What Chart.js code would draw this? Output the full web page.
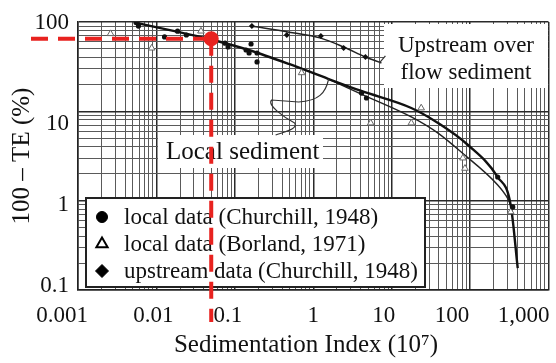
<!DOCTYPE html>
<html lang="en">
<head>
<meta charset="UTF-8">
<title>Trap efficiency vs sedimentation index</title>
<script src="https://cdn.jsdelivr.net/npm/chart.js@4"></script>
<style>
  body { margin: 0; background: #fff; }
</style>
</head>
<body>
<canvas id="chart" width="556" height="363"></canvas>
<script>
// values (x = sedimentation index, y = 100 - TE in %)
const mainCurveX = [0.0055, 0.017, 0.047, 0.15, 0.49, 1.57, 4.1, 17.8, 39, 94, 225, 330, 405];
const mainCurveY = [98, 79, 64.5, 48.6, 33.9, 23, 16.9, 10.9, 7.4, 4.2, 1.84, 0.89, 0.176];

const lowerCurveX = [1.57, 4.1, 17.8, 39, 77, 225, 300, 330];
const lowerCurveY = [23, 15.6, 8.65, 5.7, 3.5, 1.5, 1.07, 0.89];

const upstreamCurveX = [0.161, 0.49, 1.245, 2.44, 4.63, 7.4];
const upstreamCurveY = [90, 77, 66, 52.5, 40.6, 34.8];

const churchillLocalX = [0.0055, 0.0059, 0.0127, 0.0186, 0.0241, 0.075, 0.082, 0.139, 0.161, 0.152, 0.192, 0.192, 4.13, 4.77, 225, 350];
const churchillLocalY = [99, 90, 68, 79, 71.5, 58, 52.5, 48.6, 56.7, 45, 45, 35.7, 16, 14.1, 1.84, 0.85];

const borlandX = [0.0026, 0.0087, 0.037, 0.71, 5.4, 17.8, 23.8, 81, 86, 330];
const borlandY = [74, 51, 79, 27, 7.4, 7.4, 10.9, 3.0, 2.3, 0.75];

const upstreamDataX = [0.165, 0.46, 1.25, 2.44, 4.63];
const upstreamDataY = [90, 71.5, 69.7, 51, 40.6];

const markX = [0.05];
const markY = [65];

const xTickValues = [0.001, 0.01, 0.1, 1, 10, 100, 1000];
const xTickLabels = ['0.001', '0.01', '0.1', '1', '10', '100', '1,000'];
const yTickValues = [0.1, 1, 10, 100];
const yTickLabels = ['0.1', '1', '10', '100'];

const legendLabels = ['local data (Churchill, 1948)', 'local data (Borland, 1971)', 'upstream data (Churchill, 1948)'];
const xTitle = 'Sedimentation Index (10\u2077)';
const yTitle = '100 \u2013 TE (%)';
const upstreamNote = ['Upstream over', 'flow sediment'];
const localNote = 'Local sediment';

const SERIF = "'Liberation Serif', 'Times New Roman', serif";

function pts(xs, ys) {
  return xs.map((x, i) => ({ x: x, y: ys[i] }));
}

function logTicks(scale) {
  const t = [];
  const lo = Math.floor(Math.log10(scale.min) + 1e-9);
  const hi = Math.ceil(Math.log10(scale.max) - 1e-9);
  for (let e = lo; e <= hi; e++) {
    for (let m = 1; m <= 9; m++) {
      const v = m * Math.pow(10, e);
      if (v >= scale.min * 0.999 && v <= scale.max * 1.001) t.push({ value: v, major: m === 1 });
    }
  }
  scale.ticks = t;
}

const gridOpts = {
  color: c => (c.tick && c.tick.major) ? '#2a2a2a' : '#5a5a5a',
  lineWidth: c => (c.tick && c.tick.major) ? 1.5 : 1,
  drawTicks: false
};

const decor = {
  id: 'decor',
  beforeDatasetsDraw(chart) {
    const ctx = chart.ctx;
    ctx.save();
    // white boxes over the grid
    ctx.fillStyle = '#fff';
    ctx.fillRect(384, 24, 164, 64);
    ctx.fillRect(158, 135, 165, 33);
    ctx.fillRect(86, 198, 339, 89);
    ctx.lineWidth = 2;
    ctx.strokeStyle = '#222';
    ctx.strokeRect(86, 198, 339, 89);

    // legend
    const rows = [217, 244, 271];
    const styles = [
      { pointStyle: 'circle', radius: 5.5, rotation: 0, borderWidth: 1, fill: '#000' },
      { pointStyle: 'triangle', radius: 6.5, rotation: 0, borderWidth: 2, fill: '#fff' },
      { pointStyle: 'rectRot', radius: 6.5, rotation: 0, borderWidth: 1, fill: '#000' }
    ];
    ctx.font = '23px ' + SERIF;
    ctx.textBaseline = 'middle';
    ctx.textAlign = 'left';
    legendLabels.forEach((lab, i) => {
      ctx.fillStyle = styles[i].fill;
      ctx.strokeStyle = '#000';
      ctx.lineWidth = styles[i].borderWidth;
      Chart.helpers.drawPoint(ctx, styles[i], 102, rows[i]);
      ctx.fillStyle = '#111';
      ctx.fillText(lab, 124, rows[i] + 1);
    });
    ctx.restore();
  },
  afterDatasetsDraw(chart) {
    const ctx = chart.ctx;
    const xs = chart.scales.x, ys = chart.scales.y;
    ctx.save();

    // notes
    ctx.fillStyle = '#111';
    ctx.font = '23px ' + SERIF;
    ctx.textAlign = 'center';
    ctx.textBaseline = 'alphabetic';
    ctx.fillText(upstreamNote[0], 466, 52);
    ctx.fillText(upstreamNote[1], 466, 79);
    ctx.font = '25px ' + SERIF;
    ctx.textAlign = 'left';
    ctx.fillText(localNote, 166, 159);

    // leader lines
    ctx.strokeStyle = '#333';
    ctx.lineWidth = 1.2;
    const ax = xs.getPixelForValue(1.57), ay = ys.getPixelForValue(23);
    ctx.beginPath();
    ctx.moveTo(ax, ay);
    ctx.bezierCurveTo(ax - 3, ay + 14, ax - 10, ay + 22, ax - 30, ay + 23);
    ctx.lineTo(ax - 57, ay + 21);
    ctx.bezierCurveTo(ax - 62, ay + 26, ax - 45, ay + 38, ax - 34, ay + 44);
    ctx.bezierCurveTo(ax - 30, ay + 50, ax - 45, ay + 53, ax - 53, ay + 56);
    ctx.stroke();
    const ux = xs.getPixelForValue(upstreamCurveX[upstreamCurveX.length - 1]);
    const uy = ys.getPixelForValue(upstreamCurveY[upstreamCurveY.length - 1]);
    ctx.beginPath();
    ctx.moveTo(ux - 2, uy);
    ctx.lineTo(ux + 4, uy - 7);
    ctx.stroke();

    // red dashed guide lines from the marked point
    const px = xs.getPixelForValue(markX[0]), py = ys.getPixelForValue(markY[0]);
    ctx.strokeStyle = '#e8221f';
    ctx.lineWidth = 4;
    ctx.setLineDash([17, 10]);
    ctx.beginPath();
    ctx.moveTo(31, py);
    ctx.lineTo(px, py);
    ctx.stroke();
    ctx.beginPath();
    ctx.moveTo(px, py);
    ctx.lineTo(px, 322);
    ctx.stroke();
    ctx.restore();
  },
  afterDraw(chart) {
    const ctx = chart.ctx;
    const xs = chart.scales.x, ys = chart.scales.y;
    ctx.save();
    ctx.fillStyle = '#111';
    ctx.font = '23px ' + SERIF;

    // tick labels (placed as in the figure, slightly off their ticks)
    const xNudge = [-16, -3, -7, 0, -8, -18, -25];
    ctx.textAlign = 'center';
    ctx.textBaseline = 'middle';
    xTickValues.forEach((v, i) => {
      ctx.fillText(xTickLabels[i], xs.getPixelForValue(v) + xNudge[i], 316);
    });
    const yNudge = [-4, 4, 13, 1];
    ctx.textAlign = 'right';
    yTickValues.forEach((v, i) => {
      ctx.fillText(yTickLabels[i], 69, ys.getPixelForValue(v) + yNudge[i]);
    });

    // axis titles
    ctx.font = '25px ' + SERIF;
    ctx.textAlign = 'center';
    ctx.fillText(xTitle, 306, 345);
    ctx.translate(22, (chart.chartArea.top + chart.chartArea.bottom) / 2);
    ctx.rotate(-Math.PI / 2);
    ctx.fillText(yTitle, 0, 0);
    ctx.restore();
  }
};

new Chart(document.getElementById('chart'), {
  type: 'scatter',
  data: {
    datasets: [
      { data: pts(markX, markY), pointRadius: 7.5, backgroundColor: '#e8221f', borderColor: '#e8221f', borderWidth: 0 },
      { data: pts(churchillLocalX, churchillLocalY), pointStyle: 'circle', pointRadius: 2.6, backgroundColor: '#111', borderColor: '#111', borderWidth: 0 },
      { data: pts(upstreamDataX, upstreamDataY), pointStyle: 'rectRot', pointRadius: 3, backgroundColor: '#111', borderColor: '#111', borderWidth: 0 },
      { data: pts(borlandX, borlandY), pointStyle: 'triangle', pointRadius: 3.8, backgroundColor: '#fff', borderColor: '#666', borderWidth: 1 },
      { data: pts(mainCurveX, mainCurveY), showLine: true, pointRadius: 0, borderColor: '#111', borderWidth: 2.4, cubicInterpolationMode: 'monotone' },
      { data: pts(lowerCurveX, lowerCurveY), showLine: true, pointRadius: 0, borderColor: '#222', borderWidth: 1.4, cubicInterpolationMode: 'monotone' },
      { data: pts(upstreamCurveX, upstreamCurveY), showLine: true, pointRadius: 0, borderColor: '#222', borderWidth: 1.5, cubicInterpolationMode: 'monotone' }
    ]
  },
  options: {
    responsive: false,
    animation: false,
    devicePixelRatio: 1,
    layout: { padding: { top: 22, right: 5, left: 0, bottom: 0 } },
    plugins: { legend: { display: false }, tooltip: { enabled: false } },
    scales: {
      x: {
        type: 'logarithmic', min: 0.001, max: 1000, position: 'bottom',
        ticks: { display: false },
        grid: gridOpts,
        border: { display: true, color: '#222', width: 1.5 },
        afterBuildTicks: logTicks,
        afterFit: s => { s.height = 73; }
      },
      y: {
        type: 'logarithmic', min: 0.1, max: 100, position: 'left',
        ticks: { display: false },
        grid: gridOpts,
        border: { display: true, color: '#222', width: 1.5 },
        afterBuildTicks: logTicks,
        afterFit: s => { s.width = 78; }
      }
    }
  },
  plugins: [decor]
});
</script>
</body>
</html>
